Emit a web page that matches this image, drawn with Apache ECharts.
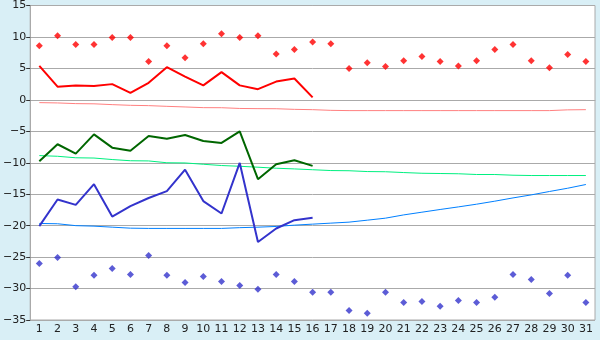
<!DOCTYPE html>
<html>
<head>
<meta charset="utf-8">
<script src="https://cdn.jsdelivr.net/npm/echarts@6/dist/echarts.min.js"></script>
<style>
html,body{margin:0;padding:0;background:#d9eff6;}
#c{width:600px;height:340px;}
</style>
</head>
<body>
<div id="c"></div>
<script>
var categories = ['1','2','3','4','5','6','7','8','9','10','11','12','13','14','15','16','17','18','19','20','21','22','23','24','25','26','27','28','29','30','31'];
var redPoints = [8.6,10.2,8.8,8.8,9.9,9.9,6.1,8.6,6.7,8.9,10.5,9.9,10.2,7.3,8.0,9.2,8.9,5.0,5.9,5.3,6.2,6.9,6.1,5.4,6.2,8.0,8.8,6.2,5.1,7.2,6.1];
var redLine = [5.4,2.1,2.3,2.2,2.5,1.1,2.7,5.2,3.7,2.3,4.4,2.3,1.7,2.9,3.4,0.4];
var pinkLine = [-0.44,-0.49,-0.60,-0.63,-0.76,-0.87,-0.92,-1.03,-1.13,-1.24,-1.25,-1.37,-1.40,-1.41,-1.51,-1.56,-1.67,-1.71,-1.71,-1.71,-1.71,-1.71,-1.71,-1.71,-1.71,-1.71,-1.71,-1.71,-1.71,-1.59,-1.56];
var greenLine = [-9.76,-7.06,-8.54,-5.48,-7.6,-8.1,-5.74,-6.17,-5.6,-6.53,-6.85,-5.0,-12.62,-10.24,-9.6,-10.5];
var lightGreenLine = [-8.86,-8.97,-9.21,-9.25,-9.49,-9.68,-9.71,-10.0,-10.03,-10.24,-10.44,-10.56,-10.71,-10.87,-10.98,-11.11,-11.24,-11.27,-11.40,-11.43,-11.56,-11.67,-11.71,-11.75,-11.87,-11.87,-11.98,-12.03,-12.03,-12.03,-12.03];
var blueLine = [-20.08,-15.85,-16.7,-13.41,-18.55,-16.9,-15.6,-14.52,-11.1,-16.1,-18.07,-10.03,-22.6,-20.45,-19.13,-18.76];
var lightBlueLine = [-19.65,-19.70,-20.0,-20.08,-20.24,-20.40,-20.44,-20.44,-20.44,-20.44,-20.44,-20.32,-20.24,-20.13,-19.92,-19.76,-19.60,-19.44,-19.13,-18.81,-18.29,-17.86,-17.43,-17.02,-16.59,-16.11,-15.59,-15.11,-14.57,-14.05,-13.46];
var bluePoints = [-26.0,-25.05,-29.71,-27.9,-26.8,-27.75,-24.74,-27.9,-29.02,-28.07,-28.87,-29.5,-30.13,-27.75,-28.87,-30.6,-30.6,-33.47,-33.94,-30.6,-32.2,-32.04,-32.83,-31.88,-32.2,-31.4,-27.75,-28.55,-30.77,-27.9,-32.2];

var chart = echarts.init(document.getElementById('c'), null, {renderer:'canvas'});
var font = 'DejaVu Sans';
function lineSeries(data, color, width, z){
  return {type:'line', data:data, showSymbol:false, symbol:'none', animation:false, silent:true, z:z,
    lineStyle:{color:color, width:width}};
}
function scatterSeries(data, color){
  return {type:'scatter', data:data, symbol:'diamond', symbolSize:7, animation:false, silent:true, z:5,
    itemStyle:{color:color}};
}
chart.setOption({
  backgroundColor:'#d9eff6',
  animation:false,
  grid:{left:27, right:5, top:5, bottom:20, show:true, backgroundColor:'#ffffff', borderColor:'#aaaaaa', borderWidth:1},
  xAxis:{type:'category', data:categories, boundaryGap:true,
    axisLine:{lineStyle:{color:'#aaaaaa', width:1}},
    axisTick:{alignWithLabel:true, length:5, lineStyle:{color:'#333333'}},
    axisLabel:{color:'#222222', fontFamily:font, fontSize:11, margin:4, interval:0},
    splitLine:{show:false}},
  yAxis:{type:'value', min:-35, max:15, interval:5,
    axisLine:{show:true, lineStyle:{color:'#aaaaaa', width:1}},
    axisTick:{show:true, length:4, lineStyle:{color:'#333333'}},
    axisLabel:{color:'#222222', fontFamily:font, fontSize:11, margin:4,
      formatter:function(v){return String(v).replace('-', '\u2212');}},
    splitLine:{lineStyle:{color:'#aaaaaa', width:1}}},
  series:[
    lineSeries(pinkLine, '#ff8080', 1, 2),
    lineSeries(lightGreenLine, '#00f080', 1, 2),
    lineSeries(lightBlueLine, '#0080ff', 1, 2),
    lineSeries(redLine, '#ff0000', 2, 3),
    lineSeries(greenLine, '#006600', 2, 3),
    lineSeries(blueLine, '#3333cc', 2, 3),
    scatterSeries(redPoints, '#ff0000'),
    scatterSeries(bluePoints, '#3333cc')
  ]
});
</script>
</body>
</html>
